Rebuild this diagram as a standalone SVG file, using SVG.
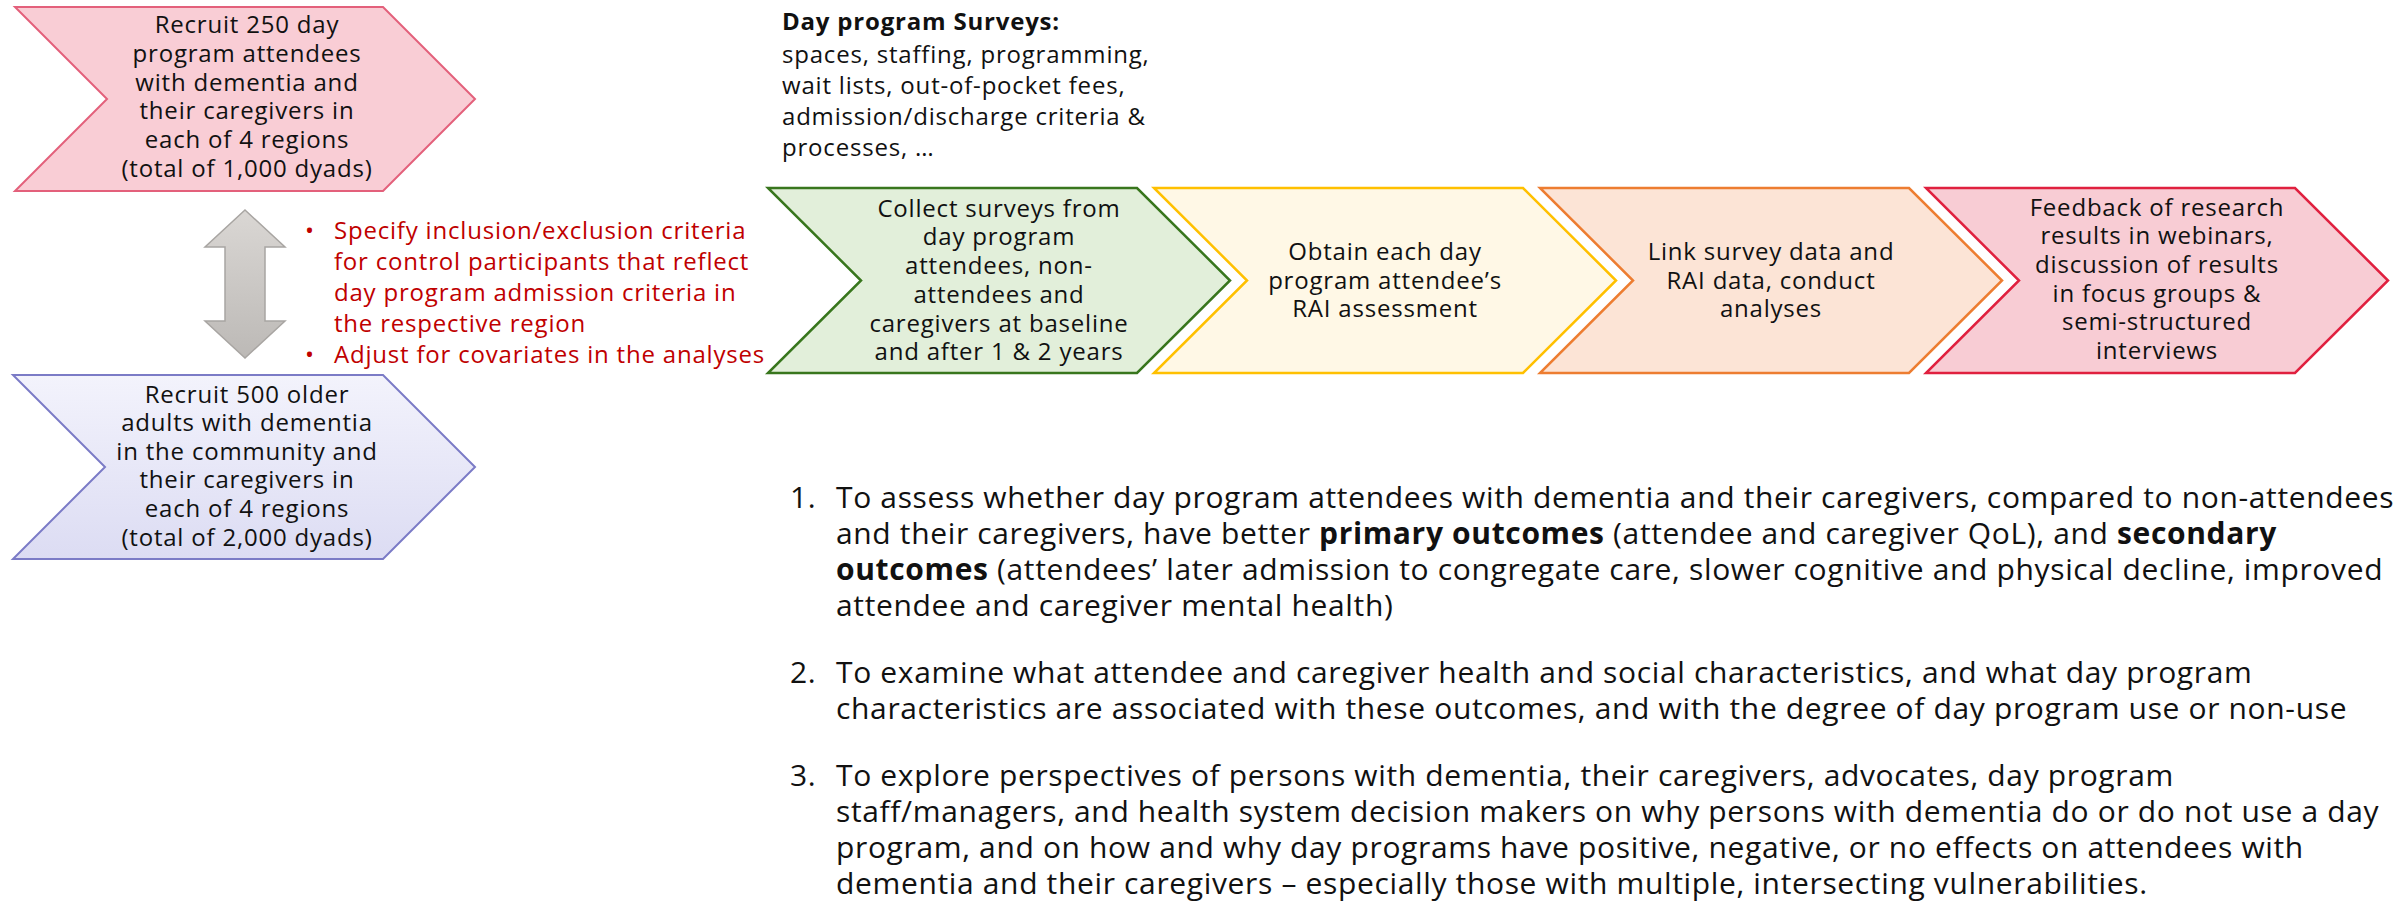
<svg xmlns="http://www.w3.org/2000/svg" width="2405" height="906" viewBox="0 0 2405 906">
<defs>
<linearGradient id="gLav" x1="0" y1="0" x2="0" y2="1"><stop offset="0" stop-color="#F3F3FC"/><stop offset="1" stop-color="#DCDCF3"/></linearGradient>
<linearGradient id="gGray" x1="0" y1="0" x2="0" y2="1"><stop offset="0" stop-color="#DAD7D4"/><stop offset="1" stop-color="#BCB9B6"/></linearGradient>
<style>
.t{font-family:"Open Sans","Liberation Sans",sans-serif;font-size:24px;letter-spacing:0.8px;fill:#111;}
.c{text-anchor:middle;}
.red{fill:#C00000;}
.b{font-weight:bold;}
.lst{font-family:"Open Sans","Liberation Sans",sans-serif;font-size:30px;letter-spacing:0.65px;fill:#111;}
</style>
</defs>
<rect width="2405" height="906" fill="#FFFFFF"/>

<g id="recruit-attendees">
<path d="M15,7 L383,7 L475,99 L383,191 L15,191 L107,99 Z" fill="#F9CDD5" stroke="#E3607B" stroke-width="2"/>
<text class="t c" x="247" y="33">Recruit 250 day</text>
<text class="t c" x="247" y="62">program attendees</text>
<text class="t c" x="247" y="91">with dementia and</text>
<text class="t c" x="247" y="119">their caregivers in</text>
<text class="t c" x="247" y="148">each of 4 regions</text>
<text class="t c" x="247" y="177">(total of 1,000 dyads)</text>
</g>

<g id="recruit-controls">
<path d="M13,375 L383,375 L475,467 L383,559 L13,559 L105,467 Z" fill="url(#gLav)" stroke="#7B7BC6" stroke-width="2"/>
<text class="t c" x="247" y="403">Recruit 500 older</text>
<text class="t c" x="247" y="431">adults with dementia</text>
<text class="t c" x="247" y="460">in the community and</text>
<text class="t c" x="247" y="488">their caregivers in</text>
<text class="t c" x="247" y="517">each of 4 regions</text>
<text class="t c" x="247" y="546">(total of 2,000 dyads)</text>
</g>

<g id="connectors">
<path d="M245,210 L285,247 L265,247 L265,321 L285,321 L245,358 L205,321 L225,321 L225,247 L205,247 Z" fill="url(#gGray)" stroke="#A8A5A2" stroke-width="1.5"/>
</g>

<g id="control-criteria">
<text class="t red" x="305" y="239">•</text>
<text class="t red" x="334" y="239">Specify inclusion/exclusion criteria</text>
<text class="t red" x="334" y="270">for control participants that reflect</text>
<text class="t red" x="334" y="301">day program admission criteria in</text>
<text class="t red" x="334" y="332">the respective region</text>
<text class="t red" x="305" y="363">•</text>
<text class="t red" x="334" y="363">Adjust for covariates in the analyses</text>
</g>

<g id="survey-note">
<text class="t b" x="782" y="30">Day program Surveys:</text>
<text class="t" x="782" y="63">spaces, staffing, programming,</text>
<text class="t" x="782" y="94">wait lists, out-of-pocket fees,</text>
<text class="t" x="782" y="125">admission/discharge criteria &amp;</text>
<text class="t" x="782" y="156">processes, …</text>
</g>

<g id="collect-surveys">
<path d="M768,188 L1137,188 L1230,280.5 L1137,373 L768,373 L861,280.5 Z" fill="#E2EFDA" stroke="#38761D" stroke-width="2.5"/>
<text class="t c" x="999" y="217">Collect surveys from</text>
<text class="t c" x="999" y="245">day program</text>
<text class="t c" x="999" y="274">attendees, non-</text>
<text class="t c" x="999" y="303">attendees and</text>
<text class="t c" x="999" y="332">caregivers at baseline</text>
<text class="t c" x="999" y="360">and after 1 &amp; 2 years</text>
</g>

<g id="obtain-rai">
<path d="M1154,188 L1523,188 L1616,280.5 L1523,373 L1154,373 L1247,280.5 Z" fill="#FFF8E6" stroke="#FFC000" stroke-width="2.5"/>
<text class="t c" x="1385" y="260">Obtain each day</text>
<text class="t c" x="1385" y="289">program attendee’s</text>
<text class="t c" x="1385" y="317">RAI assessment</text>
</g>

<g id="link-analyze">
<path d="M1540,188 L1909,188 L2002,280.5 L1909,373 L1540,373 L1633,280.5 Z" fill="#FCE4D6" stroke="#ED7D31" stroke-width="2.5"/>
<text class="t c" x="1771" y="260">Link survey data and</text>
<text class="t c" x="1771" y="289">RAI data, conduct</text>
<text class="t c" x="1771" y="317">analyses</text>
</g>

<g id="feedback">
<path d="M1926,188 L2295,188 L2388,280.5 L2295,373 L1926,373 L2019,280.5 Z" fill="#F8CCD4" stroke="#E0203F" stroke-width="2.5"/>
<text class="t c" x="2157" y="216">Feedback of research</text>
<text class="t c" x="2157" y="244">results in webinars,</text>
<text class="t c" x="2157" y="273">discussion of results</text>
<text class="t c" x="2157" y="302">in focus groups &amp;</text>
<text class="t c" x="2157" y="330">semi-structured</text>
<text class="t c" x="2157" y="359">interviews</text>
</g>

<g id="objectives">
<text class="lst" x="790" y="508">1.</text>
<text class="lst" x="836" y="508">To assess whether day program attendees with dementia and their caregivers, compared to non-attendees</text>
<text class="lst" x="836" y="544">and their caregivers, have better <tspan class="b">primary outcomes</tspan> (attendee and caregiver QoL), and <tspan class="b">secondary</tspan></text>
<text class="lst" x="836" y="580"><tspan class="b">outcomes</tspan> (attendees’ later admission to congregate care, slower cognitive and physical decline, improved</text>
<text class="lst" x="836" y="616">attendee and caregiver mental health)</text>
<text class="lst" x="790" y="683">2.</text>
<text class="lst" x="836" y="683">To examine what attendee and caregiver health and social characteristics, and what day program</text>
<text class="lst" x="836" y="719">characteristics are associated with these outcomes, and with the degree of day program use or non-use</text>
<text class="lst" x="790" y="786">3.</text>
<text class="lst" x="836" y="786">To explore perspectives of persons with dementia, their caregivers, advocates, day program</text>
<text class="lst" x="836" y="822">staff/managers, and health system decision makers on why persons with dementia do or do not use a day</text>
<text class="lst" x="836" y="858">program, and on how and why day programs have positive, negative, or no effects on attendees with</text>
<text class="lst" x="836" y="894">dementia and their caregivers – especially those with multiple, intersecting vulnerabilities.</text>
</g>
</svg>
